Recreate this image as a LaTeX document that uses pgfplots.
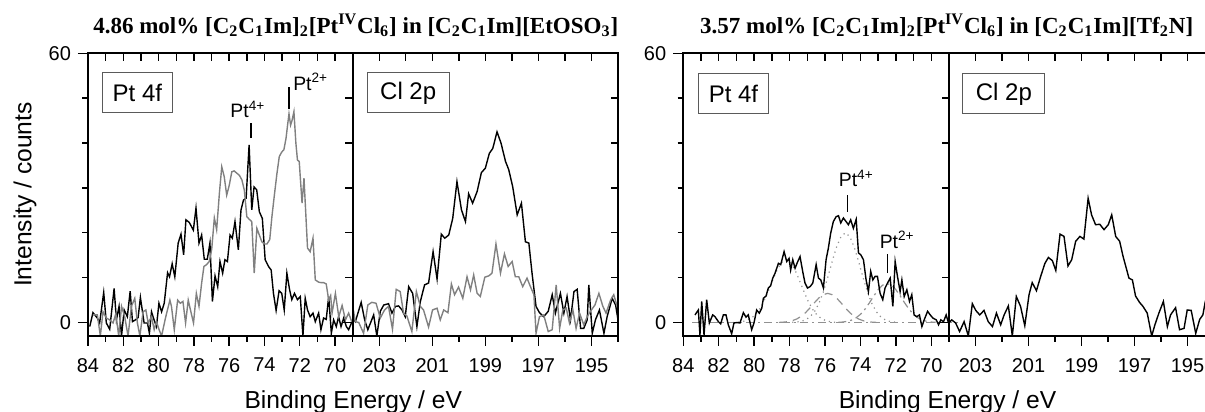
\documentclass[border=0pt]{standalone}
\usepackage{fontspec}
\setmainfont{Liberation Sans}
\newfontfamily\tfont{Liberation Serif}
\usepackage{pgfplots}
\pgfplotsset{compat=1.18}
\definecolor{dgray}{RGB}{128,128,128}
\definecolor{fgray}{RGB}{145,145,145}
\definecolor{bgray}{RGB}{90,90,90}
\pgfplotsset{
  panel/.style={scale only axis, height=141.35pt, ymin=-3, ymax=60, anchor=south west,
    axis line style={line width=0.9pt}, every tick/.style={line width=0.7pt,black},
    major tick length=5pt, minor tick length=2.8pt,
    ytick={0,60}, minor ytick={10,20,30,40,50},
    tick label style={font=\fontsize{10}{12}\selectfont},
    xticklabel style={yshift=-2.5pt},
    /pgf/number format/assume math mode=true,
    x dir=reverse},
  ptx/.style={xmin=69,xmax=84, xtick={70,72,...,84}, minor xtick={69,71,...,83}},
  clx/.style={xmin=194,xmax=204, xtick={195,197,...,203}, minor xtick={194,196,...,204}},
  mainax/.style={panel, xtick pos=bottom, ytick pos=left, tick align=outside},
  overax/.style={panel, xtick pos=top, ytick pos=right, tick align=inside, xticklabels={}, yticklabels={}, major tick length=3.6pt, minor tick length=3.6pt},
  dat/.style={line width=0.7pt, mark=none},
}
\tikzset{
  boxlab/.style={draw=bgray, line width=0.5pt, minimum height=20pt, anchor=north west, inner sep=0pt, font=\fontsize{12}{14}\selectfont},
  ann/.style={font=\fontsize{9.7}{11}\selectfont, inner sep=0pt, anchor=base west},
}
\begin{document}
\begin{tikzpicture}
\useasboundingbox (0,0) rectangle (602.5pt,206pt);
\clip (0,0) rectangle (602.5pt,206pt);
% ---------------- left group, Pt 4f
\begin{axis}[mainax, ptx, width=132.35pt, at={(44pt,38pt)}]
\addplot[dat, black] coordinates {
(83.90,-0.9) (83.72,2.2) (83.47,1.0) (83.34,-0.1) (83.11,6.7) (82.96,-0.1) (82.77,-1.5) (82.52,7.6) (82.39,0.6) (82.24,3.6)
(82.10,-3) (81.95,2.8) (81.77,1.3) (81.61,7.0) (81.48,0.2) (81.31,0.6) (81.16,1.1) (81.03,5.6) (80.82,-0.1) (80.63,-0.1)
(80.52,-2.4) (80.40,2.4) (80.29,1.0) (80.12,-0.9) (79.98,4.3) (79.83,2.4) (79.68,4.3) (79.49,11.1) (79.38,10.2) (79.23,13.1)
(79.08,10.2) (78.89,17.7) (78.73,19.7) (78.58,15.1) (78.45,22.9) (78.26,22.3) (78.03,20.6) (77.88,25.5) (77.71,17.7) (77.56,19.5)
(77.41,14.1) (77.24,14.1) (77.09,17.7) (76.95,4.7) (76.80,10.4) (76.65,8.0) (76.52,13.6) (76.37,11.0) (76.24,14.0) (76.10,13.6)
(75.95,19.5) (75.82,18.8) (75.67,22.5) (75.48,16.2) (75.33,25.1) (75.19,27.3) (75.04,27.7) (74.87,39.6) (74.72,25.1) (74.59,30.2)
(74.44,29.6) (74.29,24.7) (74.12,23.2) (73.96,14.0) (73.77,12.5) (73.62,11.7) (73.49,6.5) (73.34,2.7) (73.17,7.1) (73.02,6.5)
(72.88,2.8) (72.73,11.0) (72.58,7.4) (72.45,5.1) (72.30,6.5) (72.13,5.1) (71.97,5.8) (71.82,-3) (71.69,5.4) (71.56,2.8)
(71.41,1.3) (71.25,2.1) (71.12,0.2) (70.93,2.1) (70.80,-1.6) (70.65,1.0) (70.50,0.7) (70.36,5.8) (70.21,-2.4) (70.08,0.6)
(69.93,-0.9) (69.80,1.3) (69.66,-0.9) (69.51,1.0) (69.36,-0.9) (69.23,-1.6) (69.04,0.2)};
\addplot[dat, dgray] coordinates {
(83.72,1.7) (83.47,1.7) (83.30,-3) (83.15,2.4) (82.96,1.0) (82.77,0.6) (82.58,-0.1) (82.42,2.0) (82.26,-3) (82.10,3.6)
(81.92,1.3) (81.73,-3) (81.54,3.6) (81.35,5.4) (81.20,-0.1) (81.06,-3) (80.88,2.4) (80.72,2.8) (80.59,-0.1) (80.40,1.3)
(80.25,-1.6) (80.12,0.2) (79.97,-1.6) (79.83,-3) (79.61,1.0) (79.36,5.0) (79.27,3.6) (79.11,-1.6) (78.92,5.0) (78.77,4.3)
(78.62,4.7) (78.47,-0.1) (78.32,5.0) (78.17,2.4) (78.02,-0.1) (77.86,6.5) (77.71,3.6) (77.56,8.8) (77.43,12.5) (77.28,12.9)
(77.13,13.6) (76.99,16.3) (76.84,23.3) (76.71,20.7) (76.55,29) (76.42,34.7) (76.28,32.5) (76.14,28.4) (76.00,30.5) (75.85,33.6)
(75.72,33.8) (75.57,33.3) (75.42,32.8) (75.28,31.8) (75.14,29.5) (75.00,23.6) (74.86,23.0) (74.72,22.5) (74.58,11.0) (74.43,21.0)
(74.29,19.5) (74.15,18.0) (74.00,17.5) (73.86,17.5) (73.70,18.5) (73.58,23.5) (73.45,28.0) (73.30,33.0) (73.16,37.0) (73.02,38.0)
(72.90,38.5) (72.78,41.0) (72.69,44.0) (72.61,46.5) (72.52,44.0) (72.44,45.0) (72.33,47.0) (72.22,40.0) (72.13,36.2) (72.03,35.9)
(71.87,26.6) (71.76,32.2) (71.56,16.6) (71.41,15.8) (71.25,18.8) (71.12,9.5) (70.93,9.0) (70.80,8.9) (70.65,8.9) (70.50,8.6)
(70.36,5.0) (70.25,6.0) (70.17,2.1) (69.98,6.5) (69.79,1.3) (69.60,3.8) (69.41,0.6) (69.23,2.1) (69.03,-0.1)};
\node[boxlab, minimum width=35.3pt] at ([xshift=6.8pt,yshift=-9.5pt]axis description cs:0,1) {Pt 4f};
\draw[line width=0.6pt] (axis cs:74.76,41.1) -- (axis cs:74.76,44.5);
\node[ann] at (axis cs:75.95,45.6) {Pt\textsuperscript{4+}};
\draw[line width=0.6pt] (axis cs:72.61,47.7) -- (axis cs:72.61,52.4);
\node[ann] at (axis cs:72.39,51.8) {Pt\textsuperscript{2+}};
\end{axis}
\begin{axis}[overax, ptx, width=132.35pt, at={(44pt,38pt)}]
\end{axis}
% ---------------- left group, Cl 2p
\begin{axis}[mainax, clx, width=132.65pt, at={(176.35pt,38pt)}, yticklabels={}]
\addplot[dat, black] coordinates {
(204.0,1.0) (203.90,0.2) (203.68,4.5) (203.55,0.6) (203.43,-1.6) (203.21,1.7) (203.09,-3.0) (202.96,2.5) (202.83,3.9) (202.65,4.2)
(202.52,2.1) (202.39,3.6) (202.27,3.7) (202.14,2.8) (202.02,1.3) (201.89,8.0) (201.74,6.5) (201.58,-0.9) (201.45,4.7) (201.29,8.4)
(201.14,8.8) (200.97,15.8) (200.82,9.7) (200.66,19.7) (200.53,18.8) (200.38,19.5) (200.23,23.2) (200.07,31.4) (199.90,25.1) (199.75,22.5)
(199.63,28.7) (199.48,26.6) (199.31,29.2) (199.15,33.4) (199.00,34.4) (198.85,37.7) (198.72,38.8) (198.56,42.5) (198.41,40.0) (198.24,35.9)
(198.12,34.1) (197.97,30.3) (197.80,24.0) (197.64,26.6) (197.49,18.0) (197.36,17.7) (197.24,11.0) (197.09,3.6) (196.96,2.2) (196.80,1.3)
(196.63,2.5) (196.48,6.2) (196.36,2.1) (196.17,6.5) (196.04,2.1) (195.92,5.8) (195.79,0.6) (195.66,6.9) (195.54,7.4) (195.41,-1.3)
(195.29,-1.3) (195.16,0.6) (195.10,8.4) (194.97,-2.4) (194.85,0.6) (194.70,2.8) (194.53,-2.4) (194.41,1.3) (194.22,5.4) (194.09,3.9) (194.00,0.6)};
\addplot[dat, dgray] coordinates {
(204.0,3.6) (203.90,0.2) (203.77,0.0) (203.59,-2.4) (203.43,3.9) (203.28,4.5) (203.12,4.3) (202.96,1.0) (202.80,2.8) (202.65,3.6)
(202.50,-1.5) (202.36,7.4) (202.21,6.9) (202.08,2.0) (201.96,1.5) (201.77,-2.0) (201.60,6.9) (201.45,3.6) (201.33,2.8) (201.14,-1.0)
(200.99,2.8) (200.82,3.2) (200.70,0.6) (200.57,2.8) (200.41,2.2) (200.28,8.6) (200.16,6.2) (200.01,7.9) (199.85,5.4) (199.69,10.2)
(199.56,7.3) (199.44,10.6) (199.31,6.5) (199.19,5.8) (199.02,10.1) (198.87,10.4) (198.75,11.0) (198.60,17.5) (198.43,11.0) (198.28,15.3)
(198.14,12.5) (197.99,13.6) (197.87,10.2) (197.74,10.2) (197.59,8.0) (197.43,9.9) (197.30,8.0) (197.17,6.2) (197.09,-2.4) (196.96,1.3)
(196.80,1.7) (196.63,-2.0) (196.48,-1.6) (196.33,8.4) (196.20,-1.3) (196.08,2.8) (195.95,3.2) (195.83,-0.1) (195.70,2.8) (195.58,-1.3)
(195.45,2.1) (195.29,-0.5) (195.16,1.3) (195.04,2.5) (194.87,3.9) (194.72,6.5) (194.57,3.6) (194.45,2.1) (194.28,5.0) (194.16,6.2) (194.03,3.6)};
\node[boxlab, minimum width=41pt] at ([xshift=7pt,yshift=-9.5pt]axis description cs:0,1) {Cl 2p};
\end{axis}
\begin{axis}[overax, clx, width=132.65pt, at={(176.35pt,38pt)}]
\end{axis}
% ---------------- right group, Pt 4f
\begin{axis}[mainax, ptx, width=132.85pt, at={(341.65pt,38pt)}, clip=false]
\addplot[line width=0.6pt, fgray, dash pattern=on 4pt off 2pt on 1pt off 2pt] coordinates {(83.5,0) (68.5,0)};
\addplot[line width=0.6pt, fgray, dotted] coordinates {
(81.2,0.03) (80.95,0.07) (80.7,0.18) (80.45,0.42) (80.2,0.88) (79.95,1.67) (79.7,2.94) (79.45,4.74) (79.2,7.0) (78.95,9.49)
(78.7,11.77) (78.45,13.41) (78.2,14) (77.95,13.41) (77.7,11.77) (77.45,9.49) (77.2,7.0) (76.95,4.74) (76.7,2.94) (76.45,1.67)
(76.2,0.88) (75.95,0.42) (75.7,0.18) (75.45,0.07) (75.2,0.03)};
\addplot[line width=0.6pt, fgray, dotted] coordinates {
(77.85,0.04) (77.6,0.11) (77.35,0.26) (77.1,0.60) (76.85,1.25) (76.6,2.39) (76.35,4.20) (76.1,6.77) (75.85,10.0) (75.6,13.55)
(75.35,16.82) (75.1,19.15) (74.85,20) (74.6,19.15) (74.35,16.82) (74.1,13.55) (73.85,10.0) (73.6,6.77) (73.35,4.20) (73.1,2.39)
(72.85,1.25) (72.6,0.60) (72.35,0.26) (72.1,0.11) (71.85,0.04)};
\addplot[line width=0.6pt, fgray, dash pattern=on 4pt off 3pt] coordinates {
(78.6,0.03) (78.35,0.09) (78.1,0.19) (77.85,0.41) (77.6,0.78) (77.35,1.37) (77.1,2.20) (76.85,3.25) (76.6,4.40) (76.35,5.47)
(76.1,6.22) (75.85,6.5) (75.6,6.22) (75.35,5.47) (75.1,4.40) (74.85,3.25) (74.6,2.20) (74.35,1.37) (74.1,0.78) (73.85,0.41)
(73.6,0.19) (73.35,0.09) (73.1,0.03)};
\addplot[line width=0.6pt, fgray, dash pattern=on 4pt off 2pt on 1pt off 2pt] coordinates {
(75.25,0.05) (75.0,0.11) (74.75,0.26) (74.5,0.54) (74.25,1.04) (74.0,1.83) (73.75,2.94) (73.5,4.35) (73.25,5.90) (73.0,7.32)
(72.75,8.33) (72.5,8.7) (72.25,8.33) (72.0,7.32) (71.75,5.90) (71.5,4.35) (71.25,2.94) (71.0,1.83) (70.75,1.04) (70.5,0.54)
(70.25,0.26) (70.0,0.11) (69.75,0.05)};
\addplot[dat, black] coordinates {
(83.34,1.7) (83.15,2.8) (83.06,-2.8) (82.96,4.7) (82.83,-2.8) (82.68,5.1) (82.53,-0.1) (82.34,1.7) (82.21,1.3) (82.02,0.2)
(81.89,-0.3) (81.74,1.7) (81.59,1.7) (81.46,-0.5) (81.27,-2.5) (81.14,-0.1) (80.99,0) (80.80,-0.1) (80.61,2.2) (80.46,1.2)
(80.33,1.7) (80.14,-1.6) (80.01,-0.1) (79.86,2.8) (79.71,2.1) (79.57,3.2) (79.48,5.4) (79.33,5.9) (79.20,7.7) (79.07,8.2)
(78.95,9.9) (78.82,11.0) (78.63,13.2) (78.50,12.9) (78.31,15.8) (78.16,13.6) (78.03,14.3) (77.94,11.7) (77.82,14.0) (77.69,12.1)
(77.56,13.4) (77.41,14.7) (77.26,11.4) (77.13,8.8) (76.99,7.7) (76.84,8.0) (76.69,8.8) (76.50,12.9) (76.37,9.9) (76.24,9.5)
(76.09,7.7) (75.94,14.0) (75.81,16.6) (75.68,19.9) (75.53,22.5) (75.37,23.6) (75.24,23.8) (75.11,22.2) (74.96,23.3) (74.81,22.5)
(74.68,21.8) (74.55,22.9) (74.40,21.0) (74.24,23.0) (74.11,15.5) (73.98,15.1) (73.83,14.0) (73.68,9.5) (73.55,6.9) (73.42,11.4)
(73.30,9.5) (73.17,10.3) (73.04,10.3) (72.89,6.5) (72.74,5.1) (72.61,7.7) (72.47,8.8) (72.32,9.9) (72.17,3.6) (72.04,13.6)
(71.91,10.3) (71.76,6.9) (71.66,9.5) (71.53,5.8) (71.38,7.3) (71.23,4.7) (71.10,6.2) (70.97,1.7) (70.82,1.3) (70.67,1.7)
(70.53,-0.9) (70.40,0.6) (70.21,2.5) (70.06,1.7) (69.91,1.0) (69.72,0.6) (69.59,-0.5) (69.46,0.6) (69.31,0.2) (69.16,1.7) (69.03,-0.1)};
\node[boxlab, minimum width=35.3pt] at ([xshift=7.2pt,yshift=-10pt]axis description cs:0,1) {Pt 4f};
\draw[line width=0.6pt] (axis cs:74.73,24.7) -- (axis cs:74.73,28.4);
\node[ann] at (axis cs:75.24,30.3) {Pt\textsuperscript{4+}};
\draw[line width=0.6pt] (axis cs:72.48,11.0) -- (axis cs:72.48,15.3);
\node[ann] at (axis cs:72.93,16.6) {Pt\textsuperscript{2+}};
\end{axis}
\begin{axis}[overax, ptx, width=132.85pt, at={(341.65pt,38pt)}]
\end{axis}
% ---------------- right group, Cl 2p
\begin{axis}[mainax, clx, width=132.5pt, at={(474.5pt,38pt)}, yticklabels={}]
\addplot[dat, black] coordinates {
(204.0,0) (203.90,0.6) (203.75,-0.1) (203.60,-2.0) (203.43,0.2) (203.27,-3.0) (203.12,4.2) (202.99,2.7) (202.84,1.7) (202.68,2.7)
(202.52,0.2) (202.36,-0.9) (202.21,2.1) (202.05,-0.5) (201.92,1.7) (201.76,3.7) (201.61,-3.0) (201.46,5.8) (201.30,3.6) (201.14,-0.7)
(200.98,6.2) (200.86,8.9) (200.70,7.1) (200.54,10.3) (200.38,13.2) (200.25,14.5) (200.10,13.8) (199.97,11.6) (199.81,19.7) (199.66,19.2)
(199.51,12.6) (199.37,14.0) (199.22,18.1) (199.06,19.2) (198.91,18.6) (198.75,27.7) (198.62,24.0) (198.47,21.8) (198.31,21.9) (198.15,20.7)
(197.99,21.8) (197.86,24.0) (197.71,19.2) (197.56,18.1) (197.43,14.7) (197.31,12.1) (197.21,9.9) (197.08,9.5) (196.96,5.9) (196.81,4.5)
(196.68,3.6) (196.52,2.1) (196.35,-3.0) (196.23,-0.5) (196.08,2.1) (195.91,4.7) (195.76,-0.9) (195.64,1.7) (195.45,3.3) (195.30,-1.6)
(195.13,-1.3) (195.01,2.8) (194.86,2.7) (194.69,-2.4) (194.54,0.7) (194.42,1.7) (194.34,4.3) (194.20,2.0) (194.05,0.5)};
\node[boxlab, minimum width=41pt] at ([xshift=6.7pt,yshift=-10pt]axis description cs:0,1) {Cl 2p};
\end{axis}
\begin{axis}[overax, clx, width=132.5pt, at={(474.5pt,38pt)}]
\end{axis}
% ---------------- texts
\node[anchor=base, inner sep=0pt] at (177.9pt,189.35pt) {\tfont\bfseries\fontsize{11.5}{13}\selectfont 4.86 mol\% [C\textsubscript{2}C\textsubscript{1}Im]\textsubscript{2}[Pt\textsuperscript{IV}Cl\textsubscript{6}] in [C\textsubscript{2}C\textsubscript{1}Im][EtOSO\textsubscript{3}]};
\node[anchor=base, inner sep=0pt] at (473.35pt,189.35pt) {\tfont\bfseries\fontsize{11.5}{13}\selectfont 3.57 mol\% [C\textsubscript{2}C\textsubscript{1}Im]\textsubscript{2}[Pt\textsuperscript{IV}Cl\textsubscript{6}] in [C\textsubscript{2}C\textsubscript{1}Im][Tf\textsubscript{2}N]};
\node[rotate=90, inner sep=0pt, anchor=center] at (12.5pt,108.65pt) {\fontsize{12.3}{14}\selectfont Intensity / counts};
\node[anchor=base, inner sep=0pt] at (176.65pt,1.75pt) {\fontsize{12.3}{14}\selectfont Binding Energy / eV};
\node[anchor=base, inner sep=0pt] at (473.75pt,1.75pt) {\fontsize{12.3}{14}\selectfont Binding Energy / eV};
\end{tikzpicture}
\end{document}
